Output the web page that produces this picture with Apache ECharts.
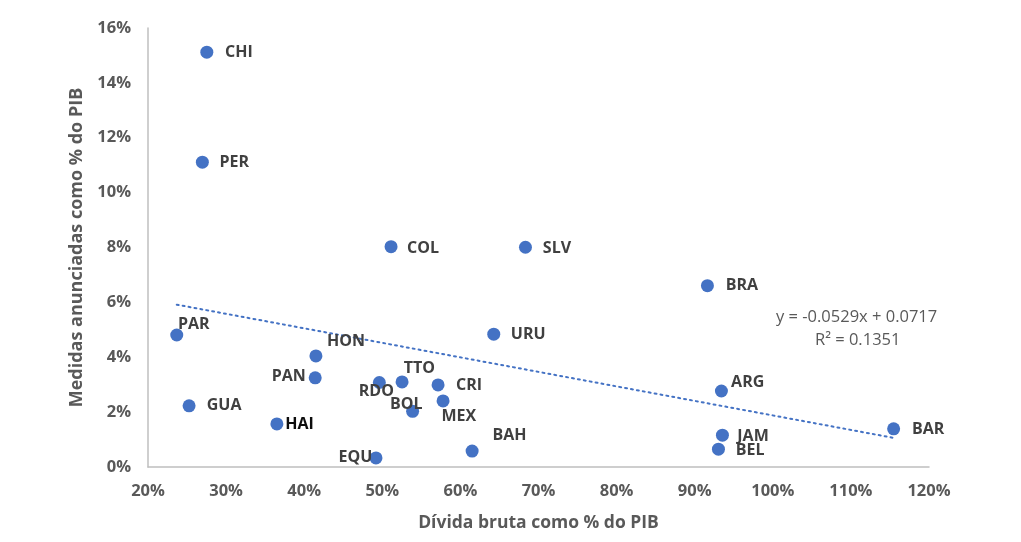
<!DOCTYPE html>
<html>
<head>
<meta charset="utf-8">
<script src="https://cdn.jsdelivr.net/npm/echarts@6/dist/echarts.min.js"></script>
<style>html,body{margin:0;padding:0;background:#fff}#c{width:1021px;height:542px}</style>
</head>
<body>
<div id="c"></div>
<script>
const countries = ['CHI','PER','COL','SLV','BRA','PAR','URU','HON','PAN','RDO','TTO','CRI','ARG','MEX','BOL','GUA','HAI','BAR','JAM','BEL','BAH','EQU'];
const debtPct = [27.53,26.96,51.12,68.33,91.63,23.68,64.27,41.5,41.41,49.62,52.53,57.14,93.42,57.78,53.88,25.26,36.5,115.47,93.55,93.04,61.5,49.19];
const measuresPct = [15.12,11.11,8.03,8.01,6.61,4.81,4.84,4.05,3.25,3.08,3.10,2.99,2.77,2.41,2.03,2.23,1.57,1.39,1.16,0.65,0.58,0.33];
const trendSlope = -0.0529, trendIntercept = 0.0717;
const xTicks = [20,30,40,50,60,70,80,90,100,110,120];
const yTicks = [0,2,4,6,8,10,12,14,16];

// label placement (pixel offsets from the marker centre) — style only
const labelOffsets = {
  CHI:[32,0], PER:[32,0], COL:[32,1.5], SLV:[31.5,1], BRA:[34.5,0], PAR:[17,-11],
  URU:[34.5,0], HON:[30,-14], PAN:[-26.5,-1], RDO:[-3,8.7], TTO:[17.3,-13.7],
  CRI:[31,0.3], ARG:[26.3,-8.7], MEX:[15.8,16], BOL:[-6.3,-7], GUA:[35,0],
  HAI:[22.6,0.3], BAR:[34.6,0.6], JAM:[30.6,1], BEL:[31.8,1], BAH:[37.3,-15.7], EQU:[-20.5,-0.7]
};

const xMinData = Math.min(...debtPct), xMaxData = Math.max(...debtPct);
const trendPts = [xMinData, xMaxData].map(x => [x, (trendIntercept + trendSlope * x / 100) * 100]);

const points = countries.map((c, i) => ({
  name: c,
  value: [debtPct[i], measuresPct[i]],
  label: { offset: labelOffsets[c], color: c === 'HAI' ? '#0d0d0d' : '#404040' }
}));

const font = '"Open Sans", "Noto Sans", sans-serif';
const chart = echarts.init(document.getElementById('c'));
chart.setOption({
  animation: false,
  grid: { left: 148, right: 92, top: 28, bottom: 75 },
  xAxis: {
    type: 'value', min: 20, max: 120, interval: 10,
    name: 'Dívida bruta como % do PIB', nameLocation: 'middle', nameGap: 47,
    nameTextStyle: { color: '#595959', fontSize: 17.5, fontWeight: 'bold', fontFamily: font },
    axisLine: { show: true, lineStyle: { color: '#bfbfbf', width: 1.5 } },
    axisTick: { show: false }, splitLine: { show: false },
    axisLabel: { color: '#595959', fontSize: 16.5, fontWeight: 'bold', fontFamily: font, margin: 16,
      formatter: v => v + '%' }
  },
  yAxis: {
    type: 'value', min: 0, max: 16, interval: 2,
    name: 'Medidas anunciadas como % do PIB', nameLocation: 'middle', nameGap: 57,
    nameTextStyle: { color: '#595959', fontSize: 18, fontWeight: 'bold', fontFamily: font },
    axisLine: { show: true, lineStyle: { color: '#bfbfbf', width: 1.5 } },
    axisTick: { show: false }, splitLine: { show: false },
    axisLabel: { color: '#595959', fontSize: 16.5, fontWeight: 'bold', fontFamily: font, margin: 17,
      formatter: v => v + '%' }
  },
  series: [
    {
      type: 'line', data: trendPts, symbol: 'none', silent: true, z: 1,
      lineStyle: { color: '#4472C4', width: 2, type: [2, 4], cap: 'round' }
    },
    {
      type: 'scatter', data: points, symbolSize: 13, z: 3,
      itemStyle: { color: '#4472C4', opacity: 1 },
      label: { show: true, position: 'inside', formatter: p => p.name,
        fontSize: 16, fontWeight: 'bold', fontFamily: font, color: '#404040' }
    }
  ],
  graphic: [
    { type: 'text', left: 776, top: 309, style: { text: 'y = -0.0529x + 0.0717', fill: '#595959', fontSize: 16.5, fontFamily: font } },
    { type: 'text', left: 815, top: 332, style: { text: 'R² = 0.1351', fill: '#595959', fontSize: 16.5, fontFamily: font } }
  ]
});
</script>
</body>
</html>
